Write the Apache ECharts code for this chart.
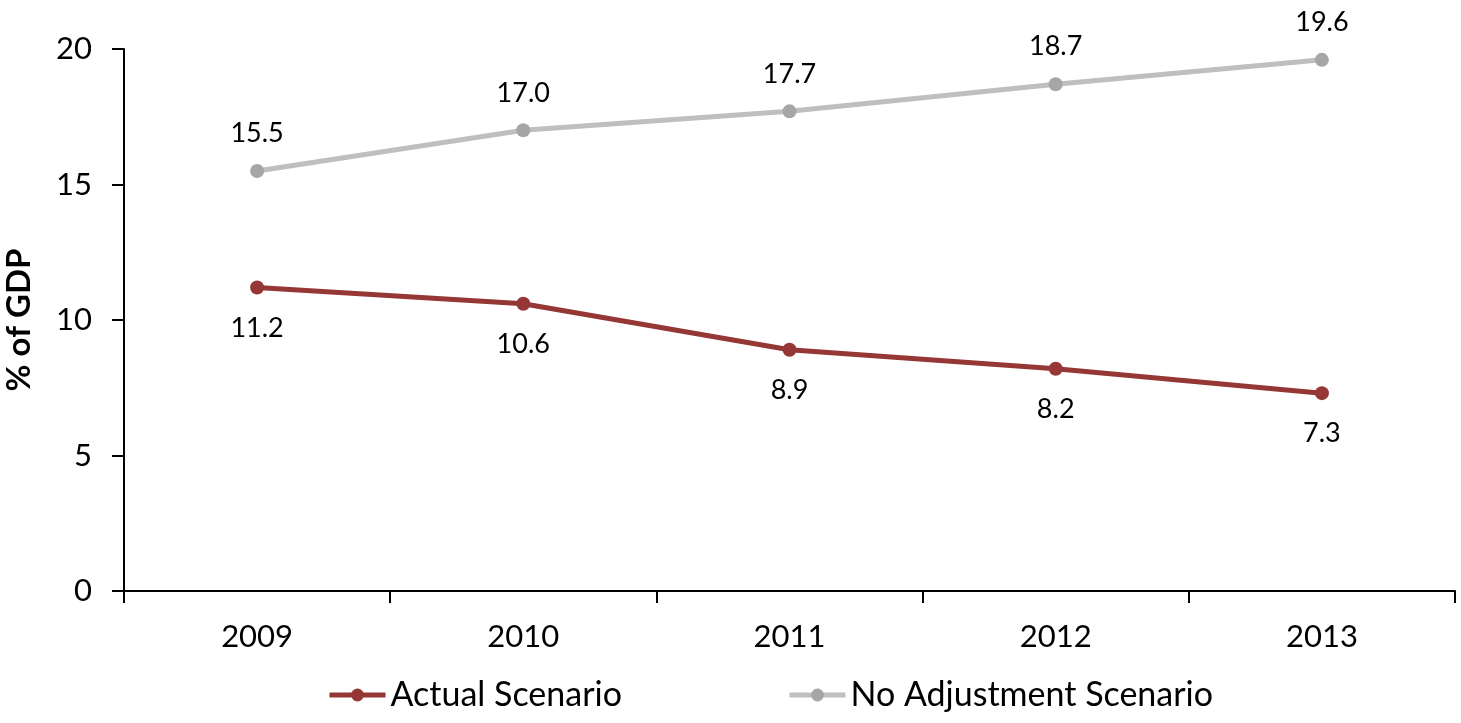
<!DOCTYPE html>
<html>
<head>
<meta charset="utf-8">
<script src="https://cdn.jsdelivr.net/npm/echarts@6/dist/echarts.min.js"></script>
<style>
  html, body { margin: 0; padding: 0; background: #fff; }
  #chart { width: 1461px; height: 723px; }
</style>
</head>
<body>
<div id="chart"></div>
<script>
const years = ['2009', '2010', '2011', '2012', '2013']
const actual = [11.2, 10.6, 8.9, 8.2, 7.3]
const noAdjustment = [15.5, 17.0, 17.7, 18.7, 19.6]

const FONT = 'Lato, "Liberation Sans", sans-serif'

const chart = echarts.init(document.getElementById('chart'))
chart.setOption({
  animation: false,
  textStyle: { fontFamily: FONT, color: '#000' },
  grid: { left: 124, right: 6, top: 49, bottom: 132, outerBoundsMode: 'none' },
  legend: {
    bottom: 6,
    left: 322,
    itemWidth: 56,
    itemHeight: 16,
    itemGap: 165,
    lineStyle: { width: 5 },
    textStyle: { fontSize: 34, fontFamily: FONT, color: '#000' },
    data: ['Actual Scenario', 'No Adjustment Scenario']
  },
  xAxis: {
    type: 'category',
    data: years,
    boundaryGap: true,
    axisLine: { lineStyle: { color: '#000', width: 2 } },
    axisTick: { show: true, length: 12, lineStyle: { color: '#000', width: 2 } },
    axisLabel: { fontSize: 31, color: '#000', margin: 30 }
  },
  yAxis: {
    type: 'value',
    min: 0,
    max: 20,
    interval: 5,
    name: '% of GDP',
    nameLocation: 'middle',
    nameGap: 88,
    nameTextStyle: { fontSize: 33, fontWeight: 'bold', color: '#000' },
    splitLine: { show: false },
    axisLine: { show: true, lineStyle: { color: '#000', width: 2 } },
    axisTick: { show: true, length: 12, lineStyle: { color: '#000', width: 2 } },
    axisLabel: { fontSize: 31, color: '#000', margin: 32 }
  },
  series: [
    {
      name: 'Actual Scenario',
      type: 'line',
      data: actual,
      symbol: 'circle',
      symbolSize: 14,
      lineStyle: { color: '#953735', width: 5 },
      itemStyle: { color: '#953735' },
      label: {
        show: true,
        position: 'bottom',
        distance: 20,
        fontSize: 27,
        color: '#000',
        formatter: p => p.value.toFixed(1)
      }
    },
    {
      name: 'No Adjustment Scenario',
      type: 'line',
      data: noAdjustment,
      symbol: 'circle',
      symbolSize: 14,
      lineStyle: { color: '#BFBFBF', width: 5 },
      itemStyle: { color: '#A6A6A6' },
      label: {
        show: true,
        position: 'top',
        distance: 17,
        fontSize: 27,
        color: '#000',
        formatter: p => p.value.toFixed(1)
      }
    }
  ]
})
</script>
</body>
</html>
